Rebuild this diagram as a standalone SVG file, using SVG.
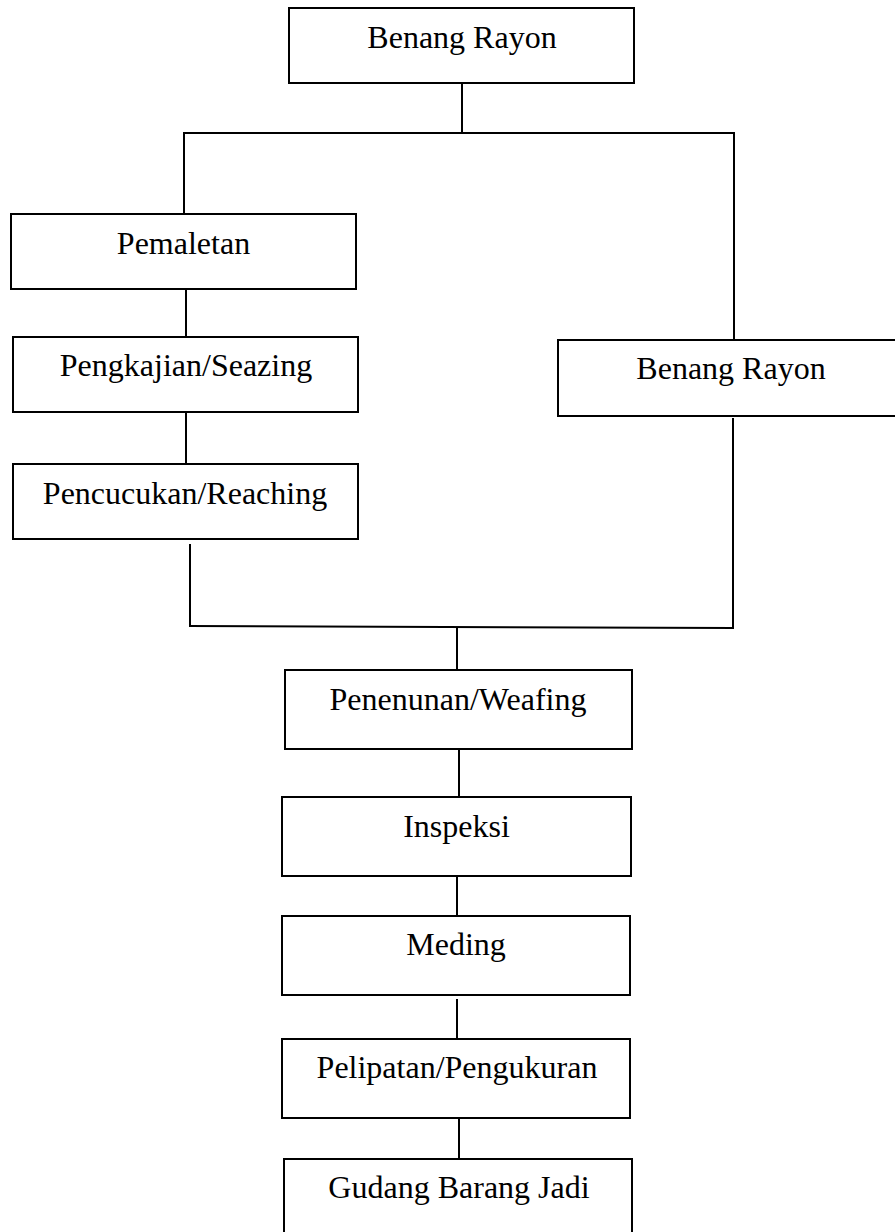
<svg xmlns="http://www.w3.org/2000/svg" width="895" height="1232" viewBox="0 0 895 1232">
<style>
.box{fill:#fff;stroke:#000;stroke-width:2}
.lbl{font-family:"Liberation Serif","Times New Roman",serif;font-size:32px;fill:#000;text-anchor:middle}
.c{stroke:#000;stroke-width:2;fill:none}
</style>
<rect width="895" height="1232" fill="#fff"/>
<g id="connectors">
<line class="c" x1="462" y1="83" x2="462" y2="133"/>
<line class="c" x1="183" y1="133" x2="735" y2="133"/>
<line class="c" x1="184" y1="132" x2="184" y2="214"/>
<line class="c" x1="734" y1="132" x2="734" y2="340"/>
<line class="c" x1="186" y1="289" x2="186" y2="337"/>
<line class="c" x1="186" y1="412" x2="186" y2="464"/>
<line class="c" x1="190" y1="544" x2="190" y2="627"/>
<line class="c" x1="733" y1="418" x2="733" y2="629"/>
<line class="c" x1="189" y1="626" x2="734" y2="628"/>
<line class="c" x1="457" y1="627" x2="457" y2="670"/>
<line class="c" x1="459" y1="749" x2="459" y2="797"/>
<line class="c" x1="457" y1="876" x2="457" y2="916"/>
<line class="c" x1="457" y1="999" x2="457" y2="1039"/>
<line class="c" x1="459" y1="1118" x2="459" y2="1159"/>
</g>
<g id="n1"><rect class="box" x="289" y="8" width="345" height="75"/><text class="lbl" x="462" y="48">Benang Rayon</text></g>
<g id="n2"><rect class="box" x="11" y="214" width="345" height="75"/><text class="lbl" x="183.5" y="254">Pemaletan</text></g>
<g id="n3"><rect class="box" x="13" y="337" width="345" height="75"/><text class="lbl" x="186" y="376">Pengkajian/Seazing</text></g>
<g id="n4"><rect class="box" x="13" y="464" width="345" height="75"/><text class="lbl" x="185" y="504">Pencucukan/Reaching</text></g>
<g id="n5"><rect class="box" x="558" y="340" width="345" height="76"/><text class="lbl" x="731" y="379">Benang Rayon</text></g>
<g id="n6"><rect class="box" x="285" y="670" width="347" height="79"/><text class="lbl" x="458" y="710">Penenunan/Weafing</text></g>
<g id="n7"><rect class="box" x="282" y="797" width="349" height="79"/><text class="lbl" x="456.5" y="837">Inspeksi</text></g>
<g id="n8"><rect class="box" x="282" y="916" width="348" height="79"/><text class="lbl" x="456" y="955">Meding</text></g>
<g id="n9"><rect class="box" x="282" y="1039" width="348" height="79"/><text class="lbl" x="457" y="1078">Pelipatan/Pengukuran</text></g>
<g id="n10"><rect class="box" x="284" y="1159" width="348" height="80"/><text class="lbl" x="459" y="1198">Gudang Barang Jadi</text></g>
</svg>
